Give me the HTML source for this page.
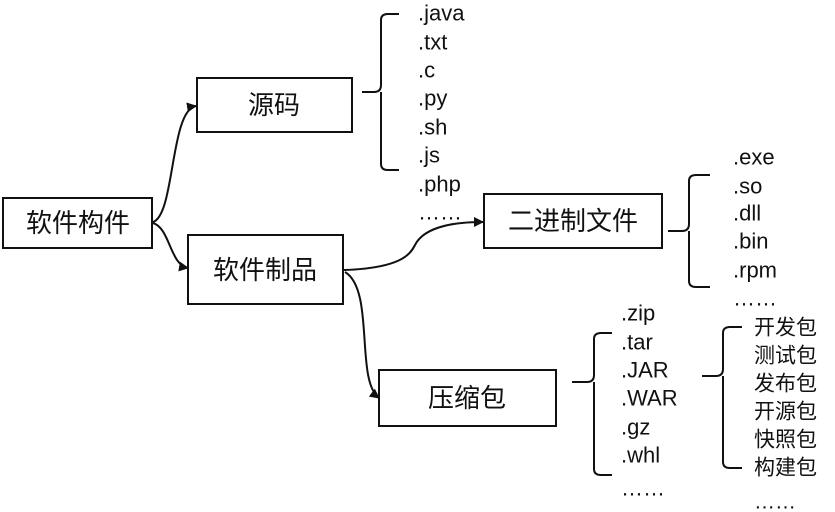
<!DOCTYPE html>
<html><head><meta charset="utf-8"><style>
html,body{margin:0;padding:0;background:#fff;}
svg{display:block}
text{font-family:"Liberation Sans","Noto Sans CJK SC",sans-serif;fill:#111;}
</style></head><body>
<svg width="835" height="512" viewBox="0 0 835 512" xmlns="http://www.w3.org/2000/svg">
<defs><marker id="a" markerWidth="10" markerHeight="10" refX="9" refY="5" orient="auto" markerUnits="userSpaceOnUse"><path d="M0,0 L10,5 L0,10 z" fill="#111"/></marker></defs>
<g fill="none" stroke="#111" stroke-width="2">
<rect x="3" y="198" width="149" height="50"/>
<rect x="197" y="78" width="155" height="54"/>
<rect x="188" y="235" width="155" height="69"/>
<rect x="484" y="194" width="178" height="54"/>
<rect x="379" y="370" width="177" height="56"/>
<path d="M153,222 C175,215 170,110 196,106" marker-end="url(#a)"/>
<path d="M153,223 C170,228 170,265 188,268" marker-end="url(#a)"/>
<path d="M344,270 C400,268 410,255 415,245 C425,225 460,222 483,222" marker-end="url(#a)"/>
<path d="M345,272 C375,290 355,380 379,398" marker-end="url(#a)"/>
<path d="M362,92 H374 Q381,92 381,85 V20 Q381,14 388,14 H399 M381,92 V164 Q381,170 388,170 H399"/>
<path d="M668,231 H682 Q689,231 689,224 V181 Q689,175 696,175 H710 M689,231 V281 Q689,287 696,287 H710"/>
<path d="M572,382 H587 Q594,382 594,375 V339 Q594,333 601,333 H612 M594,382 V469 Q594,475 601,475 H612"/>
<path d="M702,376 H716 Q723,376 723,369 V333 Q723,327 730,327 H742 M723,376 V462 Q723,468 730,468 H742"/>
</g>
<g font-size="26" text-anchor="middle" dominant-baseline="central">
<text x="78" y="223">软件构件</text>
<text x="274" y="105">源码</text>
<text x="265" y="270">软件制品</text>
<text x="573" y="221">二进制文件</text>
<text x="467" y="398">压缩包</text>
</g>
<g font-size="22" dominant-baseline="central">
<text x="418" y="13">.java</text><text x="418" y="42">.txt</text><text x="418" y="70">.c</text><text x="418" y="98">.py</text><text x="418" y="127">.sh</text><text x="418" y="155">.js</text><text x="418" y="184">.php</text><text x="418" y="212">……</text>
<text x="733" y="157">.exe</text><text x="733" y="186">.so</text><text x="733" y="213">.dll</text><text x="733" y="241">.bin</text><text x="733" y="270">.rpm</text><text x="733" y="298">……</text>
<text x="621" y="313">.zip</text><text x="621" y="342">.tar</text><text x="621" y="370">.JAR</text><text x="621" y="398">.WAR</text><text x="621" y="427">.gz</text><text x="621" y="455">.whl</text><text x="621" y="488">……</text>
</g>
<g font-size="21" dominant-baseline="central">
<text x="754" y="328">开发包</text><text x="754" y="356">测试包</text><text x="754" y="384">发布包</text><text x="754" y="412">开源包</text><text x="754" y="440">快照包</text><text x="754" y="468">构建包</text><text x="754" y="502">……</text>
</g>
</svg>
</body></html>
